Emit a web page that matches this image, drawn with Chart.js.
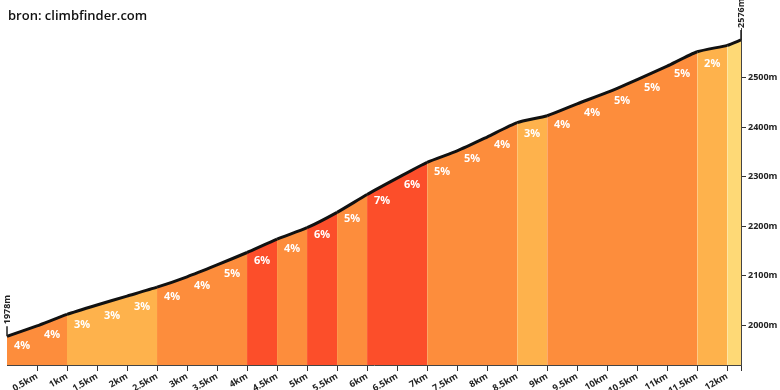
<!DOCTYPE html>
<html>
<head>
<meta charset="utf-8">
<script src="https://cdn.jsdelivr.net/npm/chart.js@4.4.0/dist/chart.umd.min.js"></script>
<style>
html, body { margin: 0; padding: 0; background: #fff; }
#wrap { width: 780px; height: 390px; }
</style>
</head>
<body>
<div id="wrap"><canvas id="profiel"></canvas></div>
<script>
// afstand in km, hoogte in m
var afstand = [0, 0.5, 1, 1.5, 2, 2.5, 3, 3.5, 4, 4.5, 5, 5.5, 6, 6.5, 7, 7.5, 8, 8.5, 9, 9.5, 10, 10.5, 11, 11.5, 12, 12.23];
var hoogte = [1978, 1999, 2022, 2041, 2059, 2077, 2098, 2122, 2147, 2174, 2197, 2228, 2264, 2297, 2329, 2352, 2380, 2409, 2423, 2447, 2470, 2496, 2523, 2552, 2565, 2576];
// stijging per segment (laatste segment zonder label)
var procent = [4, 4, 3, 3, 3, 4, 4, 5, 6, 4, 6, 5, 7, 6, 5, 5, 4, 3, 4, 4, 5, 5, 5, 2, 1];
var toonLabel = [1, 1, 1, 1, 1, 1, 1, 1, 1, 1, 1, 1, 1, 1, 1, 1, 1, 1, 1, 1, 1, 1, 1, 1, 0];
var kmTicks = [0.5, 1, 1.5, 2, 2.5, 3, 3.5, 4, 4.5, 5, 5.5, 6, 6.5, 7, 7.5, 8, 8.5, 9, 9.5, 10, 10.5, 11, 11.5, 12, 12.23];
var hoogteTicks = [2000, 2100, 2200, 2300, 2400, 2500];

var fontNaam = "'Open Sans', 'DejaVu Sans', sans-serif";

function kleur(p) {
	if (p <= 1) return '#fed976';
	if (p <= 3) return '#feb24c';
	if (p <= 5) return '#fd8d3c';
	return '#fc4e2a';
}

var punten = [];
for (var i = 0; i < afstand.length; i++) {
	punten.push({ x: afstand[i], y: hoogte[i] });
}

var extraTekst = {
	id: 'extraTekst',
	afterDatasetsDraw: function (chart) {
		var ctx = chart.ctx;
		var xs = chart.scales.x;
		var ys = chart.scales.y;
		ctx.save();

		// percentages
		ctx.fillStyle = '#fff';
		ctx.font = 'bold 11px ' + fontNaam;
		ctx.textAlign = 'center';
		ctx.textBaseline = 'middle';
		for (var i = 0; i < procent.length; i++) {
			if (!toonLabel[i]) continue;
			var xm = (afstand[i] + afstand[i + 1]) / 2;
			var ym = (hoogte[i] + hoogte[i + 1]) / 2;
			ctx.fillText(procent[i] + '%', xs.getPixelForValue(xm), ys.getPixelForValue(ym) + 15);
		}

		// begin en eind hoogte
		ctx.strokeStyle = '#222';
		ctx.fillStyle = '#222';
		ctx.lineWidth = 1.5;
		ctx.font = 'bold 9px ' + fontNaam;
		var eind = afstand.length - 1;
		[[afstand[0], hoogte[0]], [afstand[eind], hoogte[eind]]].forEach(function (p) {
			var px = xs.getPixelForValue(p[0]);
			var py = ys.getPixelForValue(p[1]);
			ctx.beginPath();
			ctx.moveTo(px, py);
			ctx.lineTo(px, py - 10);
			ctx.stroke();
			ctx.save();
			ctx.translate(px, py - 12);
			ctx.rotate(-Math.PI / 2);
			ctx.textAlign = 'left';
			ctx.textBaseline = 'middle';
			ctx.fillText(p[1] + 'm', 0, 0);
			ctx.restore();
		});

		// bron
		ctx.fillStyle = '#111';
		ctx.font = '600 13px ' + fontNaam;
		ctx.textAlign = 'left';
		ctx.textBaseline = 'alphabetic';
		ctx.fillText('bron: climbfinder.com', 8, 20);
		ctx.restore();
	}
};

var config = {
	type: 'line',
	data: {
		datasets: [{
			data: punten,
			borderColor: '#111',
			borderWidth: 3,
			pointRadius: 0,
			tension: 0.2,
			fill: 'start',
			backgroundColor: '#fd8d3c',
			segment: {
				backgroundColor: function (c) {
					var idx = Math.round(c.p0.parsed.x / 0.5);
					return kleur(procent[idx]);
				}
			}
		}]
	},
	options: {
		responsive: false,
		animation: false,
		layout: { padding: { left: 7, top: 28, right: 0, bottom: 0 } },
		plugins: { legend: { display: false }, tooltip: { enabled: false } },
		scales: {
			x: {
				type: 'linear',
				min: 0,
				max: 12.23,
				afterBuildTicks: function (s) {
					s.ticks = kmTicks.map(function (v) { return { value: v }; });
				},
				afterFit: function (s) { s.height = 25; },
				ticks: {
					autoSkip: false,
					minRotation: 30,
					maxRotation: 30,
					padding: 0,
					color: '#222',
					font: { family: fontNaam, size: 9, weight: 'bold' },
					callback: function (v) { return v > 12.1 ? '' : v + 'km'; }
				},
				grid: { drawOnChartArea: false, drawTicks: true, tickLength: 6, color: '#333' },
				border: { color: '#444', width: 1 }
			},
			y: {
				position: 'right',
				min: 1920,
				max: 2600,
				afterBuildTicks: function (s) {
					s.ticks = hoogteTicks.map(function (v) { return { value: v }; });
				},
				afterFit: function (s) { s.width = 39; },
				ticks: {
					padding: 2,
					color: '#222',
					font: { family: fontNaam, size: 9, weight: 'bold' },
					callback: function (v) { return v + 'm'; }
				},
				grid: { drawOnChartArea: false, drawTicks: true, tickLength: 5, color: '#333' },
				border: { color: '#444', width: 1 }
			}
		}
	},
	plugins: [extraTekst]
};

var canvas = document.getElementById('profiel');
canvas.width = 780;
canvas.height = 390;
window.myChart = new Chart(canvas.getContext('2d'), config);
</script>
</body>
</html>
